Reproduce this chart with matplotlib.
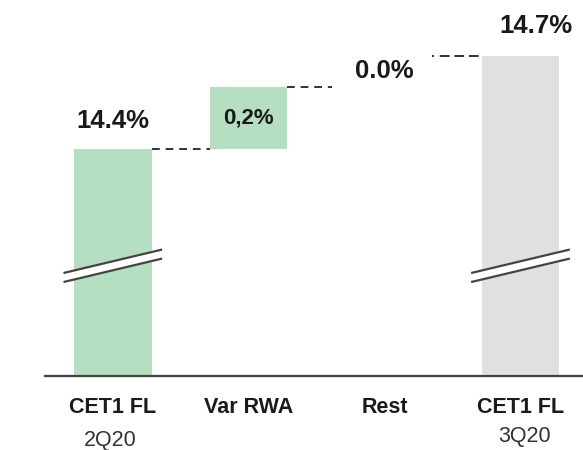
import matplotlib
matplotlib.use("Agg")
import matplotlib.pyplot as plt
import matplotlib.transforms as mtransforms

# CET1 fully loaded ratio bridge, 2Q20 -> 3Q20 (%)
categories = ["CET1 FL", "Var RWA", "Rest", "CET1 FL"]
periods = ["2Q20", "", "", "3Q20"]
start_value = 14.4
var_rwa = 0.2
rest = 0.0
end_value = 14.7

green = "#b6dfc2"
grey = "#e0e0e0"
ink = "#1a1a1a"

plt.rcParams["font.family"] = ["Liberation Sans", "DejaVu Sans"]

fig = plt.figure(figsize=(5.83, 4.5), dpi=100)
ax = fig.add_axes([0.077, 0.164, 0.923, 0.836])

x = [0, 1, 2, 3]
w = 0.57

# truncated y axis: bars start below the visible window
ax.bar(x[0], start_value, width=w, color=green)
ax.bar(x[1], var_rwa, bottom=start_value, width=w, color=green)
ax.bar(x[2], rest, bottom=start_value + var_rwa, width=w, color=green)
ax.bar(x[3], end_value, width=w, color=grey)

ax.set_xlim(-0.50, 3.46)
ax.set_ylim(13.669, 14.879)

# connectors between steps
run1 = start_value
run2 = start_value + var_rwa
ax.plot([x[0] + w / 2, x[1] - w / 2], [run1, run1], color="#333333", lw=1.4,
        ls=(0, (4, 3)))
ax.plot([x[1] + w / 2, 1.61], [run2, run2], color="#333333", lw=1.4,
        ls=(0, (4, 3)))
ax.plot([2.35, x[3] - w / 2], [end_value, end_value], color="#333333", lw=1.4,
        ls=(0, (1, 3, 5, 2.5, 5, 2.5, 5, 2.5)))

# axis break marks on the two totals
trans = mtransforms.blended_transform_factory(ax.transData, ax.transAxes)
for xi in (x[0], x[3]):
    x0, x1 = xi - w / 2 - 0.07, xi + w / 2 + 0.07
    y0, y1 = 0.275, 0.336
    gap = 0.024
    ax.fill([x0, x1, x1, x0], [y0, y1, y1 - gap, y0 - gap], color="white",
            transform=trans, zorder=3)
    ax.plot([x0, x1], [y0, y1], color="#444444", lw=1.6, transform=trans, zorder=4)
    ax.plot([x0, x1], [y0 - gap, y1 - gap], color="#444444", lw=1.6,
            transform=trans, zorder=4)

# value labels
ax.annotate(f"{start_value:.1f}%", (x[0], start_value), xytext=(0, 20),
            textcoords="offset points", ha="center", va="center",
            fontsize=18.5, fontweight="bold", color=ink)
ax.text(x[1], start_value + var_rwa / 2, f"{var_rwa:.1f}%".replace(".", ","),
        ha="center", va="center", fontsize=16, fontweight="bold", color=ink)
ax.annotate(f"{rest:.1f}%", (x[2], run2), xytext=(0, 11),
            textcoords="offset points", ha="center", va="center",
            fontsize=18.5, fontweight="bold", color=ink)
ax.annotate(f"{end_value:.1f}%", (x[3], end_value), xytext=(11, 21),
            textcoords="offset points", ha="center", va="center",
            fontsize=18.5, fontweight="bold", color=ink)

# category labels and periods
ax.set_xticks(x)
ax.set_xticklabels(categories, fontsize=15.5, fontweight="bold", color=ink)
ax.tick_params(axis="x", length=0, pad=15)
ax.set_yticks([])
period_y = [-0.170, None, None, -0.160]
period_dx = [-0.02, 0, 0, 0.03]
for xi, p, py, dx in zip(x, periods, period_y, period_dx):
    if p:
        ax.text(xi + dx, py, p, transform=trans, ha="center", va="center",
                fontsize=15.5, color="#333333")

for side in ("top", "right", "left"):
    ax.spines[side].set_visible(False)
ax.spines["bottom"].set_color("#404040")
ax.spines["bottom"].set_linewidth(1.6)

fig.savefig("out.png", dpi=100)
